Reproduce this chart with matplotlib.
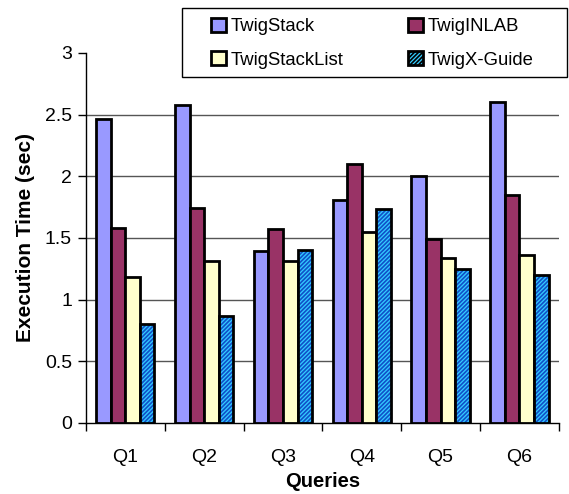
import numpy as np
import matplotlib
matplotlib.use("Agg")
import matplotlib.pyplot as plt
from matplotlib.patches import Patch, Rectangle

plt.rcParams['font.family'] = ['Liberation Sans', 'DejaVu Sans']
plt.rcParams['hatch.linewidth'] = 1.2

queries = ["Q1", "Q2", "Q3", "Q4", "Q5", "Q6"]
series_names = ["TwigStack", "TwigINLAB", "TwigStackList", "TwigX-Guide"]
twigstack = [2.46, 2.58, 1.39, 1.81, 2.00, 2.60]
twiginlab = [1.58, 1.74, 1.57, 2.10, 1.49, 1.85]
twigstacklist = [1.18, 1.31, 1.31, 1.55, 1.34, 1.36]
twigx_guide = [0.80, 0.87, 1.40, 1.73, 1.25, 1.20]

values = [twigstack, twiginlab, twigstacklist, twigx_guide]
colors = ["#9999FF", "#993366", "#FFFFCC", "#33CCFF"]

W, H = 569, 494
fig = plt.figure(figsize=(W / 100, H / 100), dpi=100)
ax = fig.add_axes([0.151, 0.144, 0.831, 0.749])

x = np.arange(len(queries))
w = 0.185
offsets = (np.arange(4) - 1.5) * w

for i, (vals, col) in enumerate(zip(values, colors)):
    if i == 3:
        ax.bar(x + offsets[i], vals, w, color=col, edgecolor="#1050C8",
               hatch="////////", linewidth=0, zorder=3)
        ax.bar(x + offsets[i], vals, w, fill=False, edgecolor="black",
               linewidth=2, zorder=4)
    else:
        ax.bar(x + offsets[i], vals, w, color=col, edgecolor="black",
               linewidth=2, zorder=3)

ax.set_xlim(-0.5, len(queries) - 0.5)
ax.set_ylim(0, 3)
ax.set_yticks(np.arange(0, 3.01, 0.5))
ax.set_yticklabels(["0", "0.5", "1", "1.5", "2", "2.5", "3"])
ax.set_xticks(x)
ax.set_xticklabels(queries)
ax.set_xticks(np.arange(-0.5, len(queries)), minor=True)
ax.tick_params(axis="x", which="major", length=0, pad=19, labelsize=14)
ax.tick_params(axis="x", which="minor", length=6, width=1)
ax.tick_params(axis="y", length=6, width=1, labelsize=14, pad=4)

for yv in np.arange(0.5, 2.51, 0.5):
    ax.axhline(yv, color="#555555", linewidth=1, zorder=1)

for s in ["top", "right"]:
    ax.spines[s].set_visible(False)
ax.spines["left"].set_linewidth(1)
ax.spines["bottom"].set_linewidth(1)

ax.set_ylabel("Execution Time (sec)", fontsize=15, fontweight="bold", labelpad=7)
ax.set_xlabel("Queries", fontsize=14.5, fontweight="bold", labelpad=4)

handles = []
for i, (name, col) in enumerate(zip(series_names, colors)):
    if i == 3:
        handles.append(Patch(facecolor=col, edgecolor="black", hatch="////////", linewidth=2, label=name))
    else:
        handles.append(Patch(facecolor=col, edgecolor="black", linewidth=2, label=name))

# legend frame drawn as a separate box so it can be wider than its entries
fig.patches.append(Rectangle((182 / W, 1 - 77 / H), (567 - 182) / W, (77 - 8) / H,
                             transform=fig.transFigure, facecolor="white",
                             edgecolor="black", linewidth=1, zorder=5))

order = [0, 2, 1, 3]
leg = fig.legend([handles[k] for k in order], [series_names[k] for k in order],
                 ncol=2, loc="upper left", bbox_to_anchor=(211 / W, 1 - 18 / H),
                 bbox_transform=fig.transFigure,
                 fontsize=13.3, frameon=False,
                 handlelength=0.8, handleheight=0.8, handletextpad=0.25,
                 borderaxespad=0, columnspacing=3.5, borderpad=0.0, labelspacing=0.85)
leg.set_zorder(6)

fig.savefig("out.png", dpi=100)
